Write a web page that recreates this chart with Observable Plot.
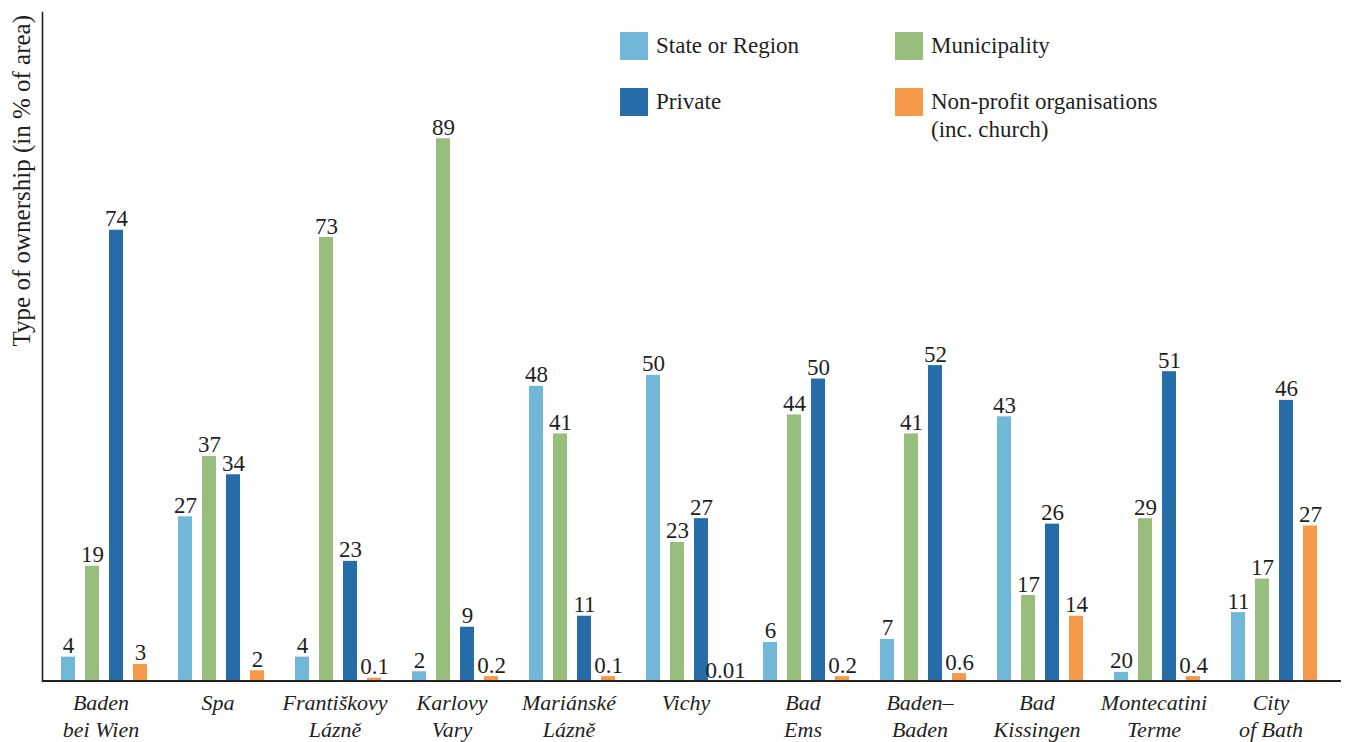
<!DOCTYPE html>
<html>
<head>
<meta charset="utf-8">
<script src="https://cdn.jsdelivr.net/npm/d3@7"></script>
<script src="https://cdn.jsdelivr.net/npm/@observablehq/plot@0.6"></script>
<style>
  body { margin: 0; background: #fff; }
  #wrap { position: relative; width: 1355px; height: 742px; font-family: "Liberation Serif", "DejaVu Serif", serif; color: #231f20; }
  #legend { position: absolute; left: 620px; top: 32px; display: grid; grid-template-columns: 275px 310px; row-gap: 28px; }
  .item { display: flex; align-items: flex-start; font-size: 23px; line-height: 28px; white-space: pre; }
  .sw { width: 28px; height: 28px; margin-right: 8px; flex: none; }
  #ylab { position: absolute; left: 8px; top: 415px; width: 400px; text-align: right; font-size: 25px; line-height: 27px;
          white-space: nowrap; transform-origin: 0 0; transform: rotate(-90deg); }
</style>
</head>
<body>
<div id="wrap">
  <div id="chart"></div>
  <div id="legend"></div>
  <div id="ylab"></div>
</div>
<script>
// Categories (cities)
const cities = ["Baden\nbei Wien", "Spa", "Františkovy\nLázně", "Karlovy\nVary", "Mariánské\nLázně", "Vichy",
                "Bad\nEms", "Baden–\nBaden", "Bad\nKissingen", "Montecatini\nTerme", "City\nof Bath"];
// Series
const series = ["State or Region", "Municipality", "Private", "Non-profit organisations\n(inc. church)"];
const colors = ["#71b8d8", "#97be7d", "#266ca8", "#f69a4a"];
const yLabel = "Type of ownership (in % of area)";

// Bar heights as drawn (% of area)
const stateValues        = [4, 27, 4, 1.6, 48.4, 50.2, 6.4, 6.9, 43.4, 1.5, 11.3];
const municipalityValues = [18.9, 36.9, 72.8, 89, 40.6, 22.8, 43.7, 40.6, 14.1, 26.7, 16.8];
const privateValues      = [74, 33.9, 19.7, 8.9, 10.7, 26.7, 49.6, 51.8, 25.8, 50.8, 46.1];
const nonprofitValues    = [2.8, 1.75, 0.55, 0.8, 0.8, 0, 0.8, 1.3, 10.7, 0.8, 25.5];

// Value labels as printed
const stateLabels        = ["4", "27", "4", "2", "48", "50", "6", "7", "43", "20", "11"];
const municipalityLabels = ["19", "37", "73", "89", "41", "23", "44", "41", "17", "29", "17"];
const privateLabels      = ["74", "34", "23", "9", "11", "27", "50", "52", "26", "51", "46"];
const nonprofitLabels    = ["3", "2", "0.1", "0.2", "0.1", "0.01", "0.2", "0.6", "14", "0.4", "27"];

const valueSets = [stateValues, municipalityValues, privateValues, nonprofitValues];
const labelSets = [stateLabels, municipalityLabels, privateLabels, nonprofitLabels];

const data = [];
cities.forEach((c, i) => series.forEach((s, j) => {
  data.push({city: c, series: s, value: valueSets[j][i], label: labelSets[j][i]});
}));

const ink = "#231f20";

const chart = Plot.plot({
  width: 1355,
  height: 742,
  marginTop: 12,
  marginBottom: 61,
  marginLeft: 42,
  marginRight: 12,
  style: {fontFamily: "'Liberation Serif', 'DejaVu Serif', serif", color: ink, background: "transparent"},
  fx: {domain: cities, paddingInner: 0, paddingOuter: 0.0503, align: 0, label: null},
  x: {domain: series, axis: null, paddingInner: 0.433, paddingOuter: 0.589, align: 0.62},
  y: {domain: [0, 109.7], axis: null},
  color: {domain: series, range: colors},
  marks: [
    Plot.barY(data, {fx: "city", x: "series", y: "value", fill: "series"}),
    Plot.text(data, {fx: "city", x: "series", y: "value", text: "label", lineAnchor: "bottom", dy: -4, fontSize: 23, fill: ink}),
    Plot.ruleY([0], {stroke: ink, strokeWidth: 2, dy: -0.5, insetRight: -12}),
    Plot.frame({anchor: "left", stroke: ink, strokeWidth: 1.6, facetAnchor: "left"}),
    Plot.axisFx({anchor: "bottom", tickSize: 0, tickPadding: 9, fontSize: 22, fontStyle: "italic", lineHeight: 1.23, label: null})
  ]
});
document.getElementById("chart").appendChild(chart);

// Legend (grid fills row by row: State, Municipality / Private, Non-profit)
const legend = d3.select("#legend");
series.forEach((s, j) => {
  const item = legend.append("div").attr("class", "item");
  item.append("div").attr("class", "sw").style("background", colors[j]);
  item.append("div").text(s);
});
document.getElementById("ylab").textContent = yLabel;
</script>
</body>
</html>
